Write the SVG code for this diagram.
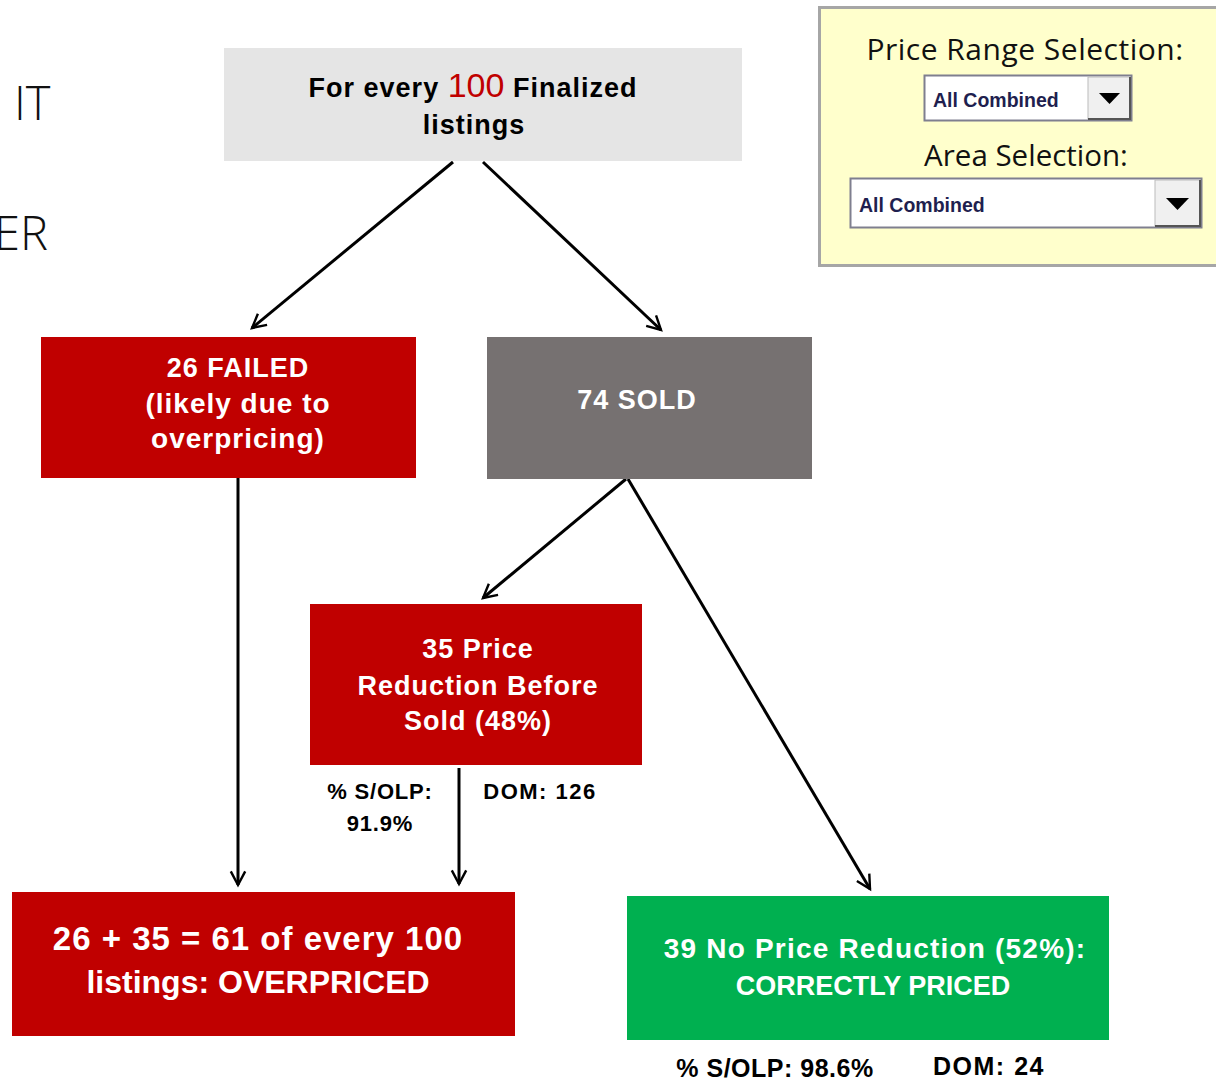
<svg xmlns="http://www.w3.org/2000/svg" width="1216" height="1081" viewBox="0 0 1216 1081">
<style>
.t{font-family:"Liberation Sans",Arial,sans-serif;font-weight:bold;text-anchor:middle}
.w{fill:#ffffff;letter-spacing:1px}
.w0{fill:#ffffff}
.k{fill:#000000}
.c{stroke:#000;stroke-width:3;fill:none}
.big{font-family:"Open Sans","Liberation Sans",sans-serif;font-weight:300;fill:#111}
.pan{font-family:"Open Sans","Liberation Sans",sans-serif;fill:#111;text-anchor:middle}
.dd{font-family:"Liberation Sans",Arial,sans-serif;font-weight:bold;font-size:19.5px;fill:#1f1f4f}
</style>
<defs>
<marker id="ah" viewBox="0 0 20 20" refX="18" refY="10" markerWidth="16" markerHeight="16" markerUnits="userSpaceOnUse" orient="auto" overflow="visible">
<path d="M1,1 L18,10 L1,19" fill="none" stroke="#000" stroke-width="3"/>
</marker>
</defs>
<rect width="1216" height="1081" fill="#ffffff"/>
<text class="big" x="14" y="120" font-size="47">IT</text>
<text class="big" x="-6" y="250" font-size="47">ER</text>

<g id="panel">
<rect x="819.5" y="7.5" width="398" height="258" fill="#ffffcc" stroke="#a6a6a6" stroke-width="3"/>
<text class="pan" x="1025" y="60" font-size="30" letter-spacing="0.5">Price Range Selection:</text>
<rect x="924.5" y="75.5" width="207" height="45" fill="#fff" stroke="#7f7f8f" stroke-width="2"/>
<rect x="1088" y="77" width="42" height="42" fill="#f0f0f0" stroke="#bcbcbc" stroke-width="1"/>
<path d="M1130,77 V119 H1088" fill="none" stroke="#555" stroke-width="2"/>
<path d="M1099,93 H1120 L1109.5,104 Z" fill="#000"/>
<text class="dd" x="933" y="107">All Combined</text>
<text class="pan" x="1026" y="166" font-size="29.5">Area Selection:</text>
<rect x="850.5" y="178.5" width="351" height="49" fill="#fff" stroke="#7f7f8f" stroke-width="2"/>
<rect x="1155" y="180" width="45" height="46" fill="#f0f0f0" stroke="#bcbcbc" stroke-width="1"/>
<path d="M1200,180 V226 H1155" fill="none" stroke="#555" stroke-width="2"/>
<path d="M1166,198 H1189 L1177.5,210 Z" fill="#000"/>
<text class="dd" x="859" y="212">All Combined</text>
</g>

<g id="connectors">
<line class="c" x1="453" y1="162" x2="252" y2="328" marker-end="url(#ah)"/>
<line class="c" x1="483" y1="162" x2="661" y2="330" marker-end="url(#ah)"/>
<line class="c" x1="238" y1="478" x2="238" y2="885" marker-end="url(#ah)"/>
<line class="c" x1="626" y1="479" x2="483" y2="598" marker-end="url(#ah)"/>
<line class="c" x1="628" y1="479" x2="870" y2="889" marker-end="url(#ah)"/>
<line class="c" x1="459" y1="768" x2="459" y2="884" marker-end="url(#ah)"/>
</g>

<g id="n-top">
<rect x="224" y="48" width="518" height="113" fill="#e5e5e5"/>
<text class="t k" x="473" y="97" font-size="27" letter-spacing="1">For every <tspan fill="#c00000" font-size="34" font-weight="normal" letter-spacing="0">100</tspan> Finalized</text>
<text class="t k" x="474" y="134" font-size="27" letter-spacing="1">listings</text>
</g>

<g id="n-failed">
<rect x="41" y="337" width="375" height="141" fill="#c00000"/>
<text class="t w" x="238" y="377" font-size="27">26 FAILED</text>
<text class="t w" x="238" y="413" font-size="28">(likely due to</text>
<text class="t w" x="238" y="448" font-size="28">overpricing)</text>
</g>

<g id="n-sold">
<rect x="487" y="337" width="325" height="142" fill="#767171"/>
<text class="t w" x="637" y="409" font-size="27">74 SOLD</text>
</g>

<g id="n-reduction">
<rect x="310" y="604" width="332" height="161" fill="#c00000"/>
<text class="t w" x="478" y="658" font-size="27">35 Price</text>
<text class="t w" x="478" y="695" font-size="27">Reduction Before</text>
<text class="t w" x="478" y="730" font-size="27">Sold (48%)</text>
</g>
<g id="lbl-reduction">
<text class="t k" x="380" y="799" font-size="22" letter-spacing="0.8">% S/OLP:</text>
<text class="t k" x="380" y="831" font-size="22" letter-spacing="0.8">91.9%</text>
<text class="t k" x="540" y="799" font-size="22" letter-spacing="1.5">DOM: 126</text>
</g>

<g id="n-overpriced">
<rect x="12" y="892" width="503" height="144" fill="#c00000"/>
<text class="t w" x="258" y="950" font-size="33">26 + 35 = 61 of every 100</text>
<text class="t w0" x="258" y="993" font-size="32">listings: OVERPRICED</text>
</g>

<g id="n-correct">
<rect x="627" y="896" width="482" height="144" fill="#00b050"/>
<text class="t w" x="875" y="958" font-size="28" style="letter-spacing:1.2px">39 No Price Reduction (52%):</text>
<text class="t w0" x="873" y="995" font-size="27">CORRECTLY PRICED</text>
</g>
<g id="lbl-correct">
<text class="t k" x="775" y="1077" font-size="25" letter-spacing="0.5">% S/OLP: 98.6%</text>
<text class="t k" x="989" y="1075" font-size="25" letter-spacing="1.5">DOM: 24</text>
</g>
</svg>
